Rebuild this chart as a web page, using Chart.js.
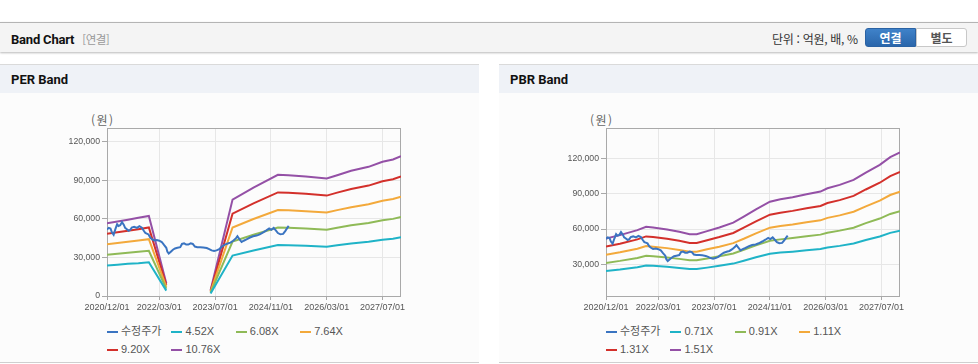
<!DOCTYPE html>
<html lang="ko">
<head>
<meta charset="utf-8">
<title>Band Chart</title>
<script src="https://cdn.jsdelivr.net/npm/chart.js@4.4.1/dist/chart.umd.min.js"></script>
<style>
    body { margin: 0; width: 978px; height: 364px; background: #fff; position: relative; overflow: hidden;
           font-family: "Liberation Sans", "Noto Sans CJK KR", sans-serif; color: #333; }
    .topbar { position: absolute; left: 0; top: 22px; width: 978px; height: 29px; background: #f4f4f4;
              border-top: 1px solid #b4b4b4; box-shadow: 0 1px 2px rgba(0,0,0,0.28); }
    .title { position: absolute; left: 11px; top: 8px; font: bold 13px Roboto, "Noto Sans CJK KR", sans-serif; color: #111; letter-spacing: -0.2px; }
    .title span { font: 11.5px "Noto Sans CJK KR", sans-serif; color: #999; margin-left: 8px; letter-spacing: -0.5px; }
    .unit { position: absolute; left: 772px; top: 7px; font: 12px "Noto Sans CJK KR", sans-serif; color: #333; letter-spacing: -0.3px; }
    .btn { position: absolute; top: 5px; height: 19px; width: 51px; box-sizing: border-box; text-align: center;
           font: bold 12px "Noto Sans CJK KR", sans-serif; line-height: 17px; }
    .btn.on { left: 865px; background: linear-gradient(#3f82c9, #2a66ab); color: #fff; border: 1px solid #2a62a3; border-radius: 3px 0 0 3px; }
    .btn.off { left: 916px; background: #fff; color: #555; border: 1px solid #c8c8c8; border-radius: 0 3px 3px 0; }
    .panel { position: absolute; top: 64px; width: 479px; height: 297px; background: #fcfcfc;
             border-top: 1px solid #dadada; border-bottom: 1px solid #cfcfcf; }
    .panel .head { height: 28px; background: #eff2f7; }
    .panel .head b { position: absolute; left: 11px; top: 7px; font: bold 13px Roboto, sans-serif; color: #111; }
    .panel canvas { position: absolute; left: 0; top: 28px; }
    .unitY { position: absolute; left: 91px; top: 46px; font: 12px "Noto Sans CJK KR", sans-serif; color: #666; letter-spacing: 1.5px; }
    .legend { position: absolute; left: 107px; top: 260px; width: 270px; }
    .legend div { display: inline-block; width: 64.4px; height: 12.6px; font: 11px "Liberation Sans", "Noto Sans CJK KR", sans-serif;
                  color: #555; white-space: nowrap; line-height: 12.6px; vertical-align: top; }
    .legend i { display: inline-block; width: 11px; height: 2.5px; margin-right: 3px; vertical-align: middle; }
</style>
</head>
<body>

<div class="topbar">
    <div class="title">Band Chart<span>[연결]</span></div>
    <div class="unit">단위 : 억원, 배, %</div>
    <div class="btn on">연결</div>
    <div class="btn off">별도</div>
</div>

<div class="panel" style="left:0">
    <div class="head"><b>PER Band</b></div>
    <div class="unitY">(원)</div>
    <canvas id="per" width="479" height="226"></canvas>
    <div class="legend" id="perLegend"></div>
</div>

<div class="panel" style="left:499px">
    <div class="head"><b>PBR Band</b></div>
    <div class="unitY">(원)</div>
    <canvas id="pbr" width="479" height="226"></canvas>
    <div class="legend" id="pbrLegend"></div>
</div>

<script>
// x = months since 2020/12/01
const xTickMonths = [0, 15, 31, 47, 63, 79];
const xTickLabels = ['2020/12/01', '2022/03/01', '2023/07/01', '2024/11/01', '2026/03/01', '2027/07/01'];

// 수정주가
const priceMonth = [0, 0.5, 1, 1.4, 1.9, 2.4, 2.9, 3.3, 3.8, 4.3, 4.8, 5.2, 5.7, 6.2, 6.7, 7.1, 7.8, 8.6, 9.3, 10,
    10.5, 11, 11.4, 11.9, 12.4, 12.9, 13.5, 14.3, 15, 15.7, 16.4, 17, 17.3, 17.7, 18.3, 18.9, 19.5, 20.2, 21, 21.5,
    22.1, 22.7, 23.3, 24, 24.6, 25.2, 25.9, 26.7, 27.6, 28.6, 29.3, 30, 30.7, 31.4, 32.2, 33, 33.8, 34.8, 35.4, 36.2,
    37, 37.4, 37.9, 38.6, 39.2, 40, 41, 41.9, 42.9, 43.8, 44.8, 45.7, 46.5, 47.1, 47.8, 48.4, 49, 49.7, 50.5, 51.1, 51.7, 52.1];
const priceValue = [51700, 53000, 52500, 49500, 47600, 52000, 55800, 54500, 55000, 57500, 55500, 53000, 52000, 50800, 51500, 53300, 53800, 53000, 54300, 53200,
    51000, 49000, 48500, 47900, 45500, 44200, 43200, 43500, 43000, 42000, 39500, 37500, 34500, 33000, 34500, 36000, 37000, 37500, 38000, 40500,
    41000, 40000, 40000, 41000, 40500, 38500, 38000, 38000, 37800, 37300, 36500, 35500, 35000, 35500, 36500, 38500, 40000, 41000, 41500, 43000,
    45000, 46500, 44500, 42000, 43000, 44000, 45500, 46500, 47000, 48000, 49500, 51000, 52500, 51500, 53000, 51000, 49000, 48000, 48300, 50500, 53000, 54500];

// PER band
const perMonth = [0, 3, 6, 9, 12, 17, 23, 29.7, 36, 42, 49, 52, 57, 63, 66, 70, 75, 79, 82, 84.3];
const per452 = [23800, 24400, 25000, 25500, 26200, 4200, null, 1900, 31500, 35400, 39600, 39500, 39100, 38400, 39500, 40900, 42200, 43800, 44600, 45700];
const per608 = [32000, 32800, 33600, 34400, 35200, 5650, null, 2550, 42400, 47700, 53300, 53100, 52500, 51600, 53100, 55000, 56800, 59000, 60000, 61500];
const per764 = [40200, 41200, 42200, 43200, 44200, 7100, null, 3200, 53300, 59900, 66900, 66800, 66000, 64900, 66800, 69100, 71400, 74100, 75400, 77200];
const per920 = [48400, 49600, 50800, 52000, 53300, 8600, null, 3860, 64100, 72100, 80600, 80400, 79500, 78100, 80400, 83300, 85900, 89200, 90800, 93000];
const per1076 = [56600, 58000, 59400, 60800, 62300, 10000, null, 4520, 75000, 84400, 94300, 94000, 93000, 91400, 94000, 97400, 100500, 104400, 106200, 108800];
const perTicks = [0, 30000, 60000, 90000, 120000];

// PBR band
const pbrMonth = [0, 4, 9, 11.5, 13.5, 17.5, 21, 24, 26, 29, 32.5, 36.5, 39.5, 43, 47, 50, 53.5, 57.5, 61.5, 63.5, 67, 71, 74.5, 78.5, 81.5, 84.3];
const pbr071 = [24500, 25800, 27800, 29200, 28900, 28100, 27100, 26200, 26200, 27400, 28900, 30800, 33200, 36100, 39100, 40100, 40900, 42000, 43100, 44400, 45800, 47800, 50700, 53700, 56800, 58700];
const pbr091 = [31400, 33100, 35600, 37400, 37000, 36000, 34800, 33600, 33600, 35100, 37000, 39400, 42500, 46200, 50100, 51300, 52400, 53900, 55300, 56900, 58700, 61200, 65000, 68900, 72800, 75200];
const pbr111 = [38300, 40400, 43400, 45600, 45100, 43900, 42400, 40900, 40900, 42900, 45100, 48100, 51800, 56400, 61200, 62600, 63900, 65700, 67400, 69500, 71600, 74700, 79200, 84000, 88800, 91700];
const pbr131 = [45200, 47600, 51300, 53800, 53300, 51800, 50100, 48300, 48300, 50600, 53300, 56700, 61200, 66500, 72200, 73900, 75400, 77600, 79600, 82000, 84500, 88100, 93500, 99200, 104800, 108300];
const pbr151 = [52100, 54900, 59100, 62000, 61400, 59700, 57700, 55700, 55700, 58300, 61400, 65400, 70500, 76700, 83200, 85200, 86900, 89400, 91700, 94500, 97400, 101600, 107800, 114300, 120800, 124800];
const pbrTicks = [30000, 60000, 90000, 120000];

const colors = ['#3a74c1', '#1fb3c7', '#8fba57', '#f3a93b', '#d3302b', '#9450a6'];

function pts(months, values) {
    return months.map((m, i) => ({ x: m, y: values[i] }));
}

const frame = {
    id: 'frame',
    beforeDatasetsDraw(chart) {
        const a = chart.chartArea, c = chart.ctx;
        c.save();
        c.strokeStyle = '#a9a9a9';
        c.lineWidth = 1;
        c.strokeRect(Math.round(a.left) + 0.5, Math.round(a.top) + 0.5, Math.round(a.right - a.left) - 1, Math.round(a.bottom - a.top));
        c.restore();
    }
};

function makeChart(id, legendId, labels, series, yMin, yMax, yTicks) {
    const datasets = [{ label: '수정주가', data: pts(priceMonth, priceValue) }]
        .concat(series.map((s, i) => ({ label: labels[i], data: pts(s[0], s[1]) })))
        .map((d, i) => Object.assign(d, {
            borderColor: colors[i], backgroundColor: colors[i], borderWidth: 2,
            pointRadius: 0, tension: 0, spanGaps: false, fill: false
        }));

    new Chart(document.getElementById(id), {
        type: 'line',
        data: { datasets },
        options: {
            responsive: false,
            animation: false,
            devicePixelRatio: 1,
            layout: { padding: { left: 0, right: 78, top: 35, bottom: 0 } },
            plugins: { legend: { display: false }, tooltip: { enabled: false } },
            scales: {
                x: {
                    type: 'linear', min: 0, max: 84.3,
                    afterBuildTicks: axis => { axis.ticks = xTickMonths.map(v => ({ value: v })); },
                    afterFit: scale => { scale.height = 23; },
                    grid: { color: '#e7e7e7', tickColor: '#a9a9a9', tickLength: 4 },
                    border: { display: false },
                    ticks: {
                        autoSkip: false, maxRotation: 0, padding: 2,
                        color: '#555', font: { size: 9, family: '"Liberation Sans", sans-serif' },
                        callback: (v, i) => xTickLabels[i]
                    }
                },
                y: {
                    min: yMin, max: yMax,
                    afterBuildTicks: axis => { axis.ticks = yTicks.map(v => ({ value: v })); },
                    afterFit: scale => { scale.width = 107; },
                    grid: { color: '#e7e7e7', tickColor: '#a9a9a9', tickLength: 5 },
                    border: { display: false },
                    ticks: {
                        padding: 2, color: '#555', font: { size: 8.7, family: '"Liberation Sans", sans-serif' },
                        callback: v => v.toLocaleString('en-US')
                    }
                }
            }
        },
        plugins: [frame]
    });

    document.getElementById(legendId).innerHTML = datasets
        .map(d => `<div><i style="background:${d.borderColor}"></i>${d.label}</div>`).join('');
}

makeChart('per', 'perLegend', ['4.52X', '6.08X', '7.64X', '9.20X', '10.76X'],
    [[perMonth, per452], [perMonth, per608], [perMonth, per764], [perMonth, per920], [perMonth, per1076]],
    0, 130700, perTicks);

makeChart('pbr', 'pbrLegend', ['0.71X', '0.91X', '1.11X', '1.31X', '1.51X'],
    [[pbrMonth, pbr071], [pbrMonth, pbr091], [pbrMonth, pbr111], [pbrMonth, pbr131], [pbrMonth, pbr151]],
    3400, 145500, pbrTicks);
</script>
</body>
</html>
